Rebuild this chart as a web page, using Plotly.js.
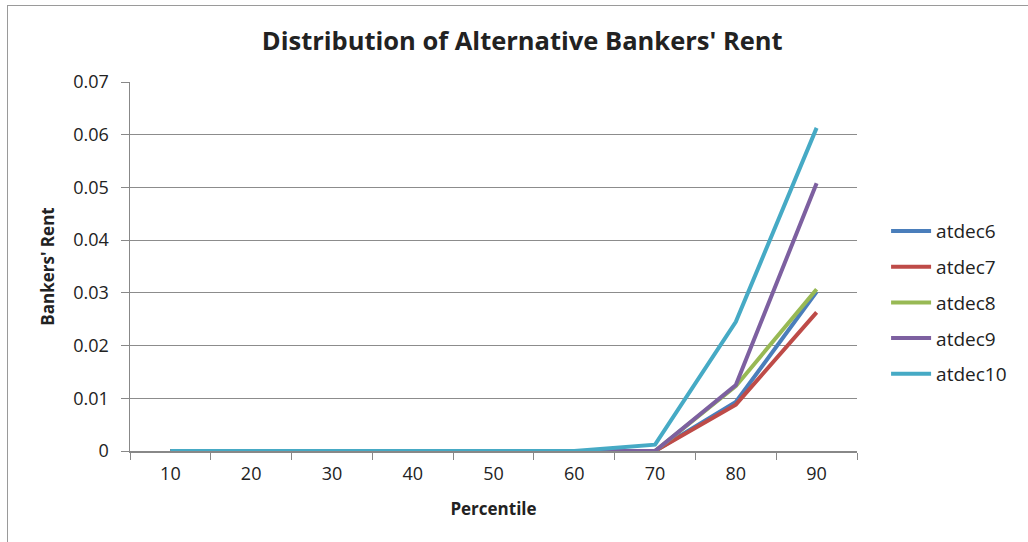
<!DOCTYPE html>
<html>
<head>
<meta charset="utf-8">
<script src="https://cdn.plot.ly/plotly-3.0.1.min.js"></script>
<style>
html,body{margin:0;padding:0;background:#fff;}
#wrap{position:relative;width:1028px;height:542px;}
#chart{width:1028px;height:542px;}
#frame{position:absolute;left:7px;top:5px;right:-5px;bottom:-5px;border-left:1.5px solid #9a9a9a;border-top:1.5px solid #9a9a9a;pointer-events:none;}
</style>
</head>
<body>
<div id="wrap"><div id="chart"></div><div id="frame"></div></div>
<script>
const percentiles = ['10','20','30','40','50','60','70','80','90'];
const atdec6  = [0,0,0,0,0,0,0,0.0093,0.0302];
const atdec7  = [0,0,0,0,0,0,0,0.0088,0.0263];
const atdec8  = [0,0,0,0,0,0,0,0.0123,0.0307];
const atdec9  = [0,0,0,0,0,0,0,0.0125,0.0508];
const atdec10 = [0,0,0,0,0,0,0.0012,0.0245,0.0613];
const seriesNames = ['atdec6','atdec7','atdec8','atdec9','atdec10'];
const seriesData = [atdec6, atdec7, atdec8, atdec9, atdec10];
const colors = ['#4A7EBB','#BE4B48','#98B954','#7D60A0','#46AAC5'];
const yTicks = [0,0.01,0.02,0.03,0.04,0.05,0.06,0.07];

const traces = seriesNames.map((n,i)=>({
  x: percentiles, y: seriesData[i], name: n, legendgroup: n, type:'scatter', mode:'lines',
  line:{color:colors[i], width:4}
}));

const layout = {
  width:1028, height:542,
  margin:{l:130, r:171, t:82, b:91},
  paper_bgcolor:'#fff', plot_bgcolor:'#fff',
  font:{family:'"Open Sans", "DejaVu Sans", sans-serif', size:18, color:'#222'},
  title:{text:"<b>Distribution of Alternative Bankers' Rent</b>", x:0.508, xanchor:'center', y:0.925, yanchor:'middle',
    font:{family:'"Open Sans", sans-serif', size:25.5, color:'#222'}},
  xaxis:{type:'category', range:[-0.5,8.5], tickson:'boundaries', ticks:'outside', ticklen:7, tickcolor:'#888',
    showline:true, linecolor:'#888', linewidth:1.5, showgrid:false, zeroline:false, ticklabelstandoff:6,
    tickfont:{size:18}, title:{text:'<b>Percentile</b>', font:{size:17}, standoff:19}},
  yaxis:{range:[0,0.07], tickvals:yTicks, ticktext:yTicks.map(v=>String(v)), ticks:'outside', ticklen:8, tickcolor:'#888',
    showline:true, linecolor:'#888', linewidth:1.5, showgrid:true, gridcolor:'#8c8c8c', gridwidth:1.2, zeroline:false,
    ticklabelstandoff:8, tickfont:{size:18}, title:{text:"<b>Bankers' Rent</b>", font:{size:17}, standoff:14}},
  legend:{x:1.04, xanchor:'left', y:0.402, yanchor:'middle', font:{size:19}, traceorder:'grouped', tracegroupgap:8, itemwidth:40,
    bgcolor:'rgba(0,0,0,0)'},
  showlegend:true
};
Plotly.newPlot('chart', traces, layout, {displayModeBar:false, staticPlot:true});
</script>
</body>
</html>
